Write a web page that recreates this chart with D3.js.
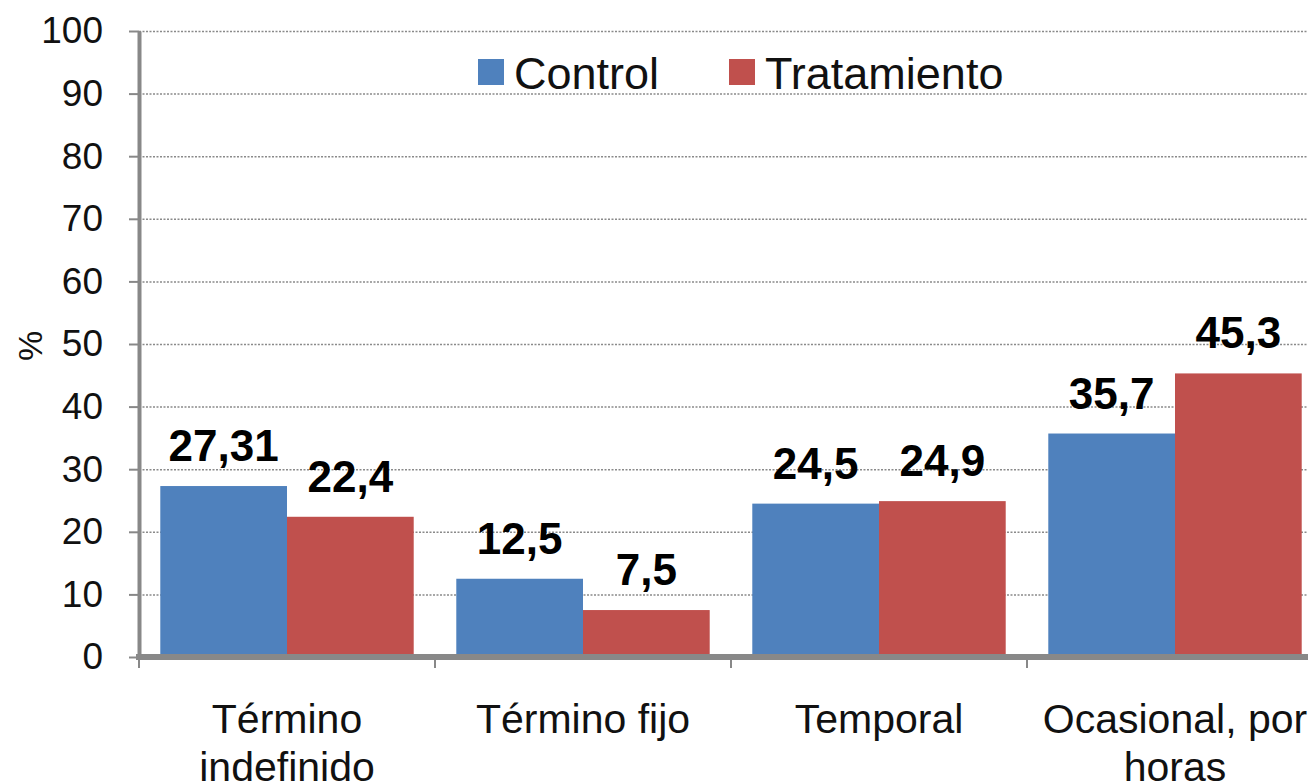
<!DOCTYPE html>
<html>
<head>
<meta charset="utf-8">
<script src="https://cdn.jsdelivr.net/npm/d3@7"></script>
<style>
  body { margin: 0; background: #fff; }
  svg { display: block; font-family: "Liberation Sans", Arial, sans-serif; }
</style>
</head>
<body>
<div id="chart"></div>
<script>
// data
var categories = [["Término", "indefinido"], ["Término fijo"], ["Temporal"], ["Ocasional, por", "horas"]];
var series = ["Control", "Tratamiento"];
var control = [27.31, 12.5, 24.5, 35.7];
var tratamiento = [22.4, 7.5, 24.9, 45.3];
var yTicks = [0, 10, 20, 30, 40, 50, 60, 70, 80, 90, 100];
var colors = ["#4F81BD", "#C0504D"];

function barchart() {
    var width = 1308, height = 784;
    var plot = { left: 139, right: 1323, top: 31, bottom: 657 };

    var svg = d3.select("#chart").append("svg")
        .attr("width", width)
        .attr("height", height);

    var catKeys = categories.map(function(c) { return c.join(" "); });
    var dataset = catKeys.map(function(k, i) {
        return { key: k, lines: categories[i], values: [control[i], tratamiento[i]] };
    });

    var x0 = d3.scaleBand().domain(catKeys).range([plot.left, plot.right]).padding(0);
    var x1 = d3.scaleBand().domain(series).range([0, x0.bandwidth()])
        .paddingInner(0).paddingOuter(0.168);
    var y = d3.scaleLinear().domain([0, 100]).range([plot.bottom, plot.top]);
    var color = d3.scaleOrdinal(series, colors);

    var comma = d3.formatLocale({ decimal: ",", thousands: ".", grouping: [3], currency: ["", ""] }).format("");

    // dotted grid
    svg.append("g")
        .attr("transform", "translate(" + plot.left + ",0)")
        .call(d3.axisLeft(y).tickValues(yTicks.slice(1)).tickSize(-(width - plot.left)).tickFormat(""))
        .call(function(g) { g.select(".domain").remove(); })
        .selectAll("line")
        .attr("stroke", "#8a8a8a")
        .attr("stroke-width", 1.5)
        .attr("stroke-dasharray", "2,1.5");

    // bars
    var group = svg.append("g").selectAll("g")
        .data(dataset)
        .enter().append("g")
        .attr("transform", function(d) { return "translate(" + x0(d.key) + ",0)"; });

    group.selectAll("rect")
        .data(function(d) { return d.values.map(function(v, i) { return { s: series[i], v: v }; }); })
        .enter().append("rect")
        .attr("x", function(d) { return x1(d.s); })
        .attr("y", function(d) { return y(d.v); })
        .attr("width", x1.bandwidth())
        .attr("height", function(d) { return y(0) - y(d.v); })
        .attr("fill", function(d) { return color(d.s); });

    group.selectAll("text.val")
        .data(function(d) { return d.values.map(function(v, i) { return { s: series[i], v: v }; }); })
        .enter().append("text")
        .attr("class", "val")
        .attr("x", function(d) { return x1(d.s) + x1.bandwidth() / 2; })
        .attr("y", function(d) { return y(d.v) - 25; })
        .attr("text-anchor", "middle")
        .style("font-size", "44px")
        .style("font-weight", "bold")
        .style("fill", "#000")
        .text(function(d) { return comma(d.v); });

    // y axis
    var yAxis = svg.append("g")
        .attr("transform", "translate(" + plot.left + ",0)")
        .call(d3.axisLeft(y).tickValues(yTicks).tickSize(10).tickPadding(26).tickSizeOuter(0));
    yAxis.select(".domain").attr("stroke", "#888").attr("stroke-width", 4);
    yAxis.selectAll(".tick line").attr("stroke", "#888").attr("stroke-width", 2);
    yAxis.selectAll(".tick text")
        .style("font-size", "37px")
        .style("font-family", "'Liberation Sans', Arial, sans-serif")
        .attr("fill", "#111");

    svg.append("text")
        .attr("transform", "translate(42,346) rotate(-90)")
        .attr("text-anchor", "middle")
        .style("font-size", "34px")
        .style("fill", "#111")
        .text("%");

    // x axis line and separator ticks
    svg.append("line")
        .attr("x1", plot.left - 3).attr("x2", width)
        .attr("y1", y(0)).attr("y2", y(0))
        .attr("stroke", "#888").attr("stroke-width", 6);

    var bounds = catKeys.map(function(k) { return x0(k); });
    svg.append("g").selectAll("line")
        .data(bounds)
        .enter().append("line")
        .attr("x1", function(d) { return d; }).attr("x2", function(d) { return d; })
        .attr("y1", y(0)).attr("y2", y(0) + 11)
        .attr("stroke", "#888").attr("stroke-width", 2);

    // category labels
    var labels = svg.append("g").selectAll("text")
        .data(dataset)
        .enter().append("text")
        .attr("x", function(d) { return x0(d.key) + x0.bandwidth() / 2; })
        .attr("y", 733)
        .attr("text-anchor", "middle")
        .style("font-size", "41px")
        .style("fill", "#111");
    labels.selectAll("tspan")
        .data(function(d) { return d.lines; })
        .enter().append("tspan")
        .attr("x", function() { return d3.select(this.parentNode).attr("x"); })
        .attr("dy", function(d, i) { return i === 0 ? 0 : 48; })
        .text(function(d) { return d; });

    // legend
    var legendX = [478, 729];
    var legend = svg.append("g").selectAll("g")
        .data(series)
        .enter().append("g")
        .attr("transform", function(d, i) { return "translate(" + legendX[i] + ",0)"; });
    legend.append("rect")
        .attr("x", 0).attr("y", 59)
        .attr("width", 26).attr("height", 26)
        .attr("fill", function(d) { return color(d); });
    legend.append("text")
        .attr("x", 36).attr("y", 89)
        .style("font-size", "45px")
        .style("fill", "#111")
        .text(function(d) { return d; });
}
barchart();
</script>
</body>
</html>
